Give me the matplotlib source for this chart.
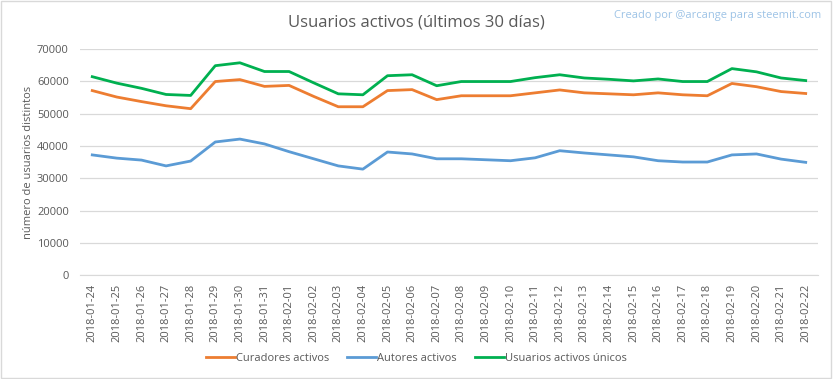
import matplotlib
matplotlib.use("Agg")
import matplotlib.pyplot as plt
import numpy as np

plt.rcParams['font.family'] = ['Open Sans', 'DejaVu Sans']

fechas = ['2018-01-24', '2018-01-25', '2018-01-26', '2018-01-27', '2018-01-28',
          '2018-01-29', '2018-01-30', '2018-01-31', '2018-02-01', '2018-02-02',
          '2018-02-03', '2018-02-04', '2018-02-05', '2018-02-06', '2018-02-07',
          '2018-02-08', '2018-02-09', '2018-02-10', '2018-02-11', '2018-02-12',
          '2018-02-13', '2018-02-14', '2018-02-15', '2018-02-16', '2018-02-17',
          '2018-02-18', '2018-02-19', '2018-02-20', '2018-02-21', '2018-02-22']

curadores = [57100, 55100, 53700, 52400, 51500, 59900, 60500, 58400, 58700, 55300,
             52100, 52100, 57100, 57400, 54300, 55500, 55500, 55500, 56400, 57300,
             56400, 56100, 55800, 56400, 55800, 55500, 59300, 58300, 56800, 56200]

autores = [37200, 36200, 35600, 33800, 35300, 41200, 42100, 40600, 38200, 36000,
           33800, 32800, 38100, 37500, 36000, 36000, 35700, 35400, 36300, 38500,
           37800, 37200, 36600, 35400, 35000, 35000, 37200, 37500, 35900, 34900]

unicos = [61400, 59400, 57800, 55900, 55600, 64800, 65700, 63000, 63000, 59500,
          56100, 55800, 61700, 62000, 58600, 59900, 59900, 59900, 61100, 62000,
          61000, 60600, 60100, 60700, 59900, 59900, 63900, 62900, 61000, 60200]

fig = plt.figure(figsize=(8.33, 3.79), dpi=100)
ax = fig.add_axes([0.096, 0.274, 0.886, 0.597])

x = np.arange(len(fechas))
ax.plot(x, curadores, color='#ED7D31', lw=2.0, label='Curadores activos')
ax.plot(x, autores, color='#5B9BD5', lw=2.0, label='Autores activos')
ax.plot(x, unicos, color='#00B050', lw=2.0, label='Usuarios activos únicos')

ax.set_xlim(-0.5, len(fechas) - 0.5)
ax.set_ylim(0, 70000)
ax.set_yticks(np.arange(0, 70001, 10000))
ax.set_xticks(x)
ax.set_xticklabels(fechas, rotation=90)
ax.tick_params(axis='both', length=0, labelsize=8, colors='#595959', pad=6)
ax.tick_params(axis='y', pad=8)
ax.grid(axis='y', color='#D9D9D9', lw=0.9)
ax.set_axisbelow(True)
for s in ['top', 'right', 'left']:
    ax.spines[s].set_visible(False)
ax.spines['bottom'].set_color('#D9D9D9')

ax.set_ylabel('número de usuarios distintos', fontsize=8, color='#595959', labelpad=2)

fig.text(0.5, 0.94, 'Usuarios activos (últimos 30 días)', ha='center', va='center',
         fontsize=12, color='#595959')
fig.text(0.986, 0.96, 'Creado por @arcange para steemit.com', ha='right', va='center',
         fontsize=8, color='#9DC3E6')

fig.legend(loc='center', bbox_to_anchor=(0.5, 0.055), ncol=3, frameon=False,
           fontsize=8, labelcolor='#595959', handlelength=2.6, handletextpad=0.1,
           columnspacing=1.6)

border = plt.Rectangle((0.001, 0.002), 0.997, 0.995, transform=fig.transFigure,
                       fill=False, ec='#D9D9D9', lw=1)
fig.patches.append(border)

fig.savefig('out.png', dpi=100)
